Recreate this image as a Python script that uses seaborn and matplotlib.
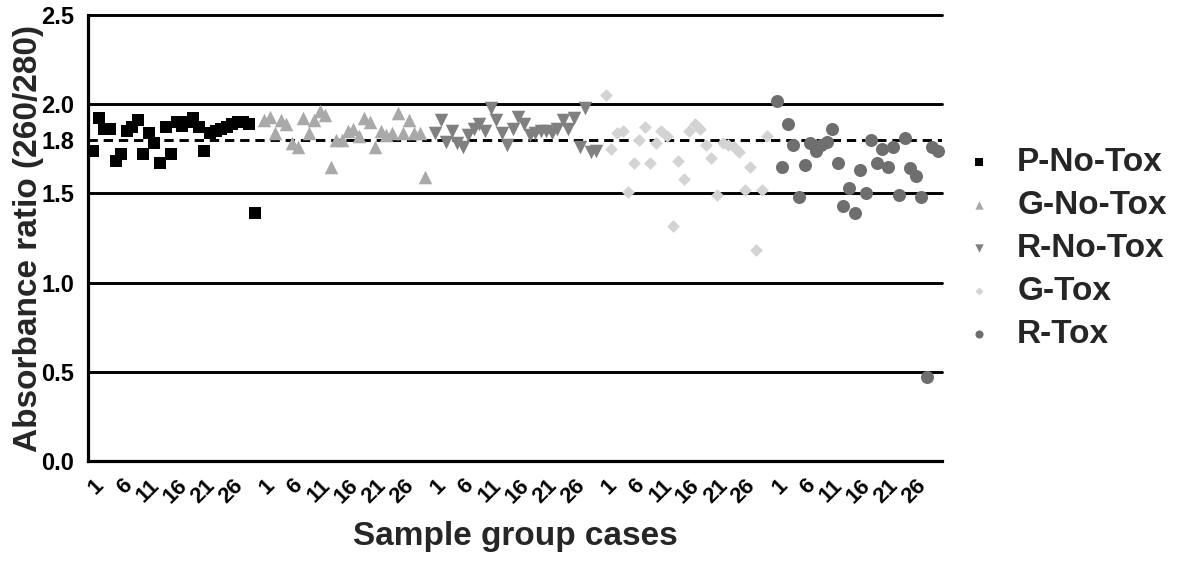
import numpy as np
import pandas as pd
import matplotlib
matplotlib.use("Agg")
import matplotlib.pyplot as plt
import seaborn as sns

# absorbance ratios, 30 cases per group
groups = ["P-No-Tox", "G-No-Tox", "R-No-Tox", "G-Tox", "R-Tox"]
cases = list(range(1, 31))

p_no_tox = [1.74, 1.92, 1.86, 1.86, 1.68, 1.72, 1.85, 1.87, 1.91, 1.72,
            1.84, 1.78, 1.67, 1.87, 1.72, 1.90, 1.88, 1.90, 1.92, 1.87,
            1.74, 1.84, 1.85, 1.86, 1.87, 1.89, 1.90, 1.90, 1.89, 1.39]
g_no_tox = [1.91, 1.93, 1.84, 1.91, 1.89, 1.78, 1.76, 1.92, 1.84, 1.91,
            1.96, 1.94, 1.65, 1.80, 1.80, 1.85, 1.86, 1.82, 1.92, 1.90,
            1.76, 1.85, 1.83, 1.84, 1.95, 1.84, 1.91, 1.84, 1.84, 1.59]
r_no_tox = [1.84, 1.91, 1.79, 1.85, 1.78, 1.76, 1.83, 1.86, 1.89, 1.85,
            1.98, 1.91, 1.84, 1.77, 1.86, 1.93, 1.89, 1.83, 1.84, 1.85,
            1.85, 1.84, 1.86, 1.91, 1.86, 1.92, 1.76, 1.98, 1.73, 1.74]
g_tox = [2.05, 1.75, 1.84, 1.85, 1.51, 1.67, 1.80, 1.87, 1.67, 1.78,
         1.85, 1.82, 1.32, 1.68, 1.58, 1.85, 1.89, 1.86, 1.77, 1.70,
         1.49, 1.78, 1.77, 1.76, 1.73, 1.52, 1.65, 1.18, 1.52, 1.82]
r_tox = [2.02, 1.65, 1.89, 1.77, 1.48, 1.66, 1.78, 1.74, 1.77, 1.79,
         1.86, 1.67, 1.43, 1.53, 1.39, 1.63, 1.50, 1.80, 1.67, 1.75,
         1.65, 1.76, 1.49, 1.81, 1.64, 1.60, 1.48, 0.47, 1.76, 1.74]
values = [p_no_tox, g_no_tox, r_no_tox, g_tox, r_tox]

tick_cases = [1, 6, 11, 16, 21, 26]
group_step = 30.73

colors = {"P-No-Tox": "#000000", "G-No-Tox": "#a9a9a9", "R-No-Tox": "#808080",
          "G-Tox": "#d3d3d3", "R-Tox": "#6e6e6e"}
markers = {"P-No-Tox": "s", "G-No-Tox": "^", "R-No-Tox": "v",
           "G-Tox": "D", "R-Tox": "o"}
sizes = {"P-No-Tox": 78, "G-No-Tox": 95, "R-No-Tox": 95, "G-Tox": 42, "R-Tox": 88}

rows = []
for gi, (name, vals) in enumerate(zip(groups, values)):
    for c, v in zip(cases, vals):
        rows.append([name, c, gi * group_step + c, v])
df = pd.DataFrame(rows, columns=["group", "case", "pos", "ratio"])

sns.set_style("white")
plt.rcParams["font.family"] = ["Liberation Sans", "DejaVu Sans"]
plt.rcParams["font.weight"] = "bold"

fig = plt.figure(figsize=(11.82, 5.61), dpi=100)
ax = fig.add_axes([88 / 1182, 100 / 561, 854 / 1182, 446 / 561])

for h in [0.5, 1.0, 1.5, 2.0, 2.5]:
    ax.axhline(h, color="black", lw=2.1, zorder=1, clip_on=False)
ax.axhline(1.8, color="black", lw=2.1, ls=(0, (3.2, 2)), zorder=1)

for name in groups:
    sns.scatterplot(data=df[df["group"] == name], x="pos", y="ratio",
                    color=colors[name], marker=markers[name], s=sizes[name],
                    linewidth=0, ax=ax, label=name, zorder=3, clip_on=False)

ax.set_xlim(0.05, 0.05 + 854 / 5.56)
ax.set_ylim(0, 2.5)

yt = [0, 0.5, 1.0, 1.5, 1.8, 2.0, 2.5]
ax.set_yticks(yt)
ax.set_yticklabels(["%.1f" % t for t in yt], fontsize=17, fontweight="bold")

xt = [gi * group_step + c for gi in range(len(groups)) for c in tick_cases]
ax.set_xticks(xt)
ax.set_xticklabels([str(c) for gi in range(len(groups)) for c in tick_cases],
                   rotation=45, ha="right", rotation_mode="anchor",
                   fontsize=16, fontweight="bold")

for side in ["top", "right"]:
    ax.spines[side].set_visible(False)
for side in ["left", "bottom"]:
    ax.spines[side].set_linewidth(2.3)
    ax.spines[side].set_color("black")
ax.tick_params(axis="both", width=2.3, length=7, direction="out", colors="black", pad=3)

ax.set_ylabel("Absorbance ratio (260/280)", fontsize=24, fontweight="bold")
ax.yaxis.set_label_coords(-0.052, 0.5)
ax.set_xlabel("Sample group cases", fontsize=24, fontweight="bold")
ax.xaxis.set_label_coords(0.5, -0.135)

handles, labels = ax.get_legend_handles_labels()
ax.legend(handles, labels, loc="upper left", bbox_to_anchor=(0.814, 0.738),
          bbox_transform=fig.transFigure, frameon=False, fontsize=24,
          markerscale=0.62, handlelength=1.0, handletextpad=0.65,
          labelspacing=0.36, borderpad=0, borderaxespad=0)

fig.savefig("out.png", dpi=100)
